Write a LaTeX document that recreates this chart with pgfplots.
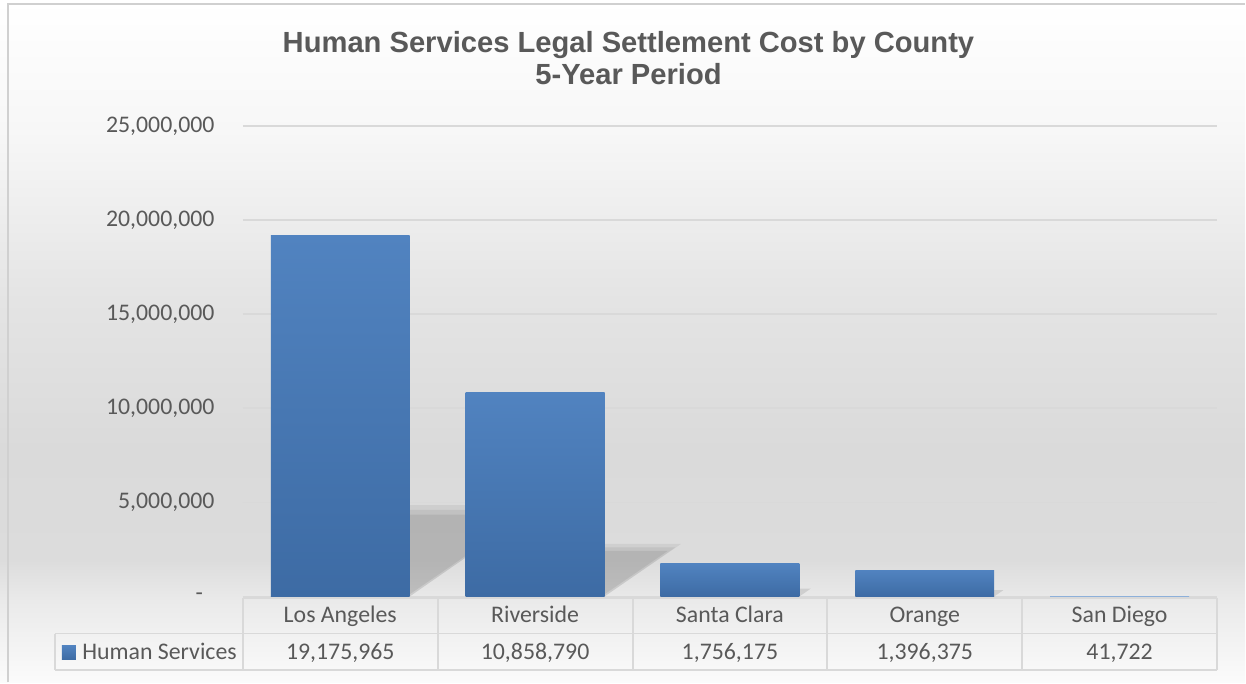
\documentclass[border=0pt]{standalone}
\usepackage{pgfplots}
\pgfplotsset{compat=1.18}
\usepackage{fontspec}
\setmainfont{Carlito}
\newfontfamily\titlefont{Liberation Sans}
\definecolor{txt}{HTML}{595959}
\definecolor{gridc}{HTML}{D9D9D9}
\definecolor{bartop}{HTML}{5183C0}
\definecolor{barbot}{HTML}{3D6BA4}
\definecolor{framec}{HTML}{D0D0D0}
\definecolor{sdline}{HTML}{8DB0DA}
\definecolor{c0}{HTML}{FBFBFB}
\definecolor{c1}{HTML}{EAEAEA}
\definecolor{c2}{HTML}{DCDCDC}
\definecolor{c3}{HTML}{DADADA}
\definecolor{c4}{HTML}{E4E4E4}
\definecolor{c5}{HTML}{F7F7F7}
\definecolor{c6}{HTML}{FFFFFF}
\pgfdeclareverticalshading{bgshade}{100bp}{color(0bp)=(c0); color(25bp)=(c0); color(31bp)=(c1); color(34bp)=(c2); color(42bp)=(c3); color(53bp)=(c4); color(65.5bp)=(c5); color(75bp)=(c6); color(100bp)=(c6)}
\newcommand\bodyfont{\fontsize{14.3pt}{17pt}\selectfont\color{txt}}
\pgfplotsset{
  bars/.style={ybar, bar width=83.4pt, bar shift=0pt, draw=none, mark=none, top color=bartop, bottom color=barbot},
  shadow/.style={fill=black, fill opacity=#1, draw=none, mark=none, forget plot},
}
\begin{document}
\begin{tikzpicture}
\begin{scope}[x=0.6pt,y=-0.6pt]
\path[shading=bgshade] (0,0) rectangle (1246,683);
\end{scope}
\begin{axis}[
  at={(145.8pt,-358.2pt)}, anchor=south west,
  scale only axis, width=585pt, height=282.6pt,
  xmin=-0.5, xmax=4.5, ymin=0, ymax=25000000,
  axis line style={draw=none},
  scaled y ticks=false,
  ytick={0,5000000,10000000,15000000,20000000,25000000},
  yticklabels={{\raisebox{-2.4pt}{-}\hspace*{7pt}},{5,000,000},{10,000,000},{15,000,000},{20,000,000},{25,000,000}},
  ymajorgrids, grid style={gridc, line width=1pt},
  major tick length=0pt,
  xtick={0,1,2,3,4},
  xticklabels={Los Angeles,Riverside,Santa Clara,Orange,San Diego},
  xticklabel style={font=\bodyfont, anchor=base, yshift=-15.6pt, inner sep=0pt},
  yticklabel style={font=\bodyfont, anchor=east, inner sep=0pt, xshift=-16.8pt},
  clip=false,
]
% soft shadows (three layers each)
\addplot[shadow=0.06] coordinates {(-0.356,0) (0.356,0) (1.030,4850000) (0.318,4850000)} --cycle;
\addplot[shadow=0.06] coordinates {(-0.356,0) (0.356,0) (0.996,4602000) (0.284,4602000)} --cycle;
\addplot[shadow=0.07] coordinates {(-0.356,0) (0.340,0) (0.950,4350000) (0.250,4350000)} --cycle;
\addplot[shadow=0.06] coordinates {(0.644,0) (1.356,0) (1.750,2800000) (1.038,2800000)} --cycle;
\addplot[shadow=0.06] coordinates {(0.644,0) (1.356,0) (1.719,2606000) (1.007,2606000)} --cycle;
\addplot[shadow=0.07] coordinates {(0.644,0) (1.340,0) (1.680,2420000) (0.980,2420000)} --cycle;
\addplot[shadow=0.10] coordinates {(1.644,0) (2.356,0) (2.415,421000) (1.703,421000)} --cycle;
\addplot[shadow=0.10] coordinates {(2.644,0) (3.356,0) (3.403,335000) (2.691,335000)} --cycle;
% bars
\addplot[bars] coordinates {(0,19175965)};
\addplot[bars] coordinates {(1,10858790)};
\addplot[bars] coordinates {(2,1756175)};
\addplot[bars] coordinates {(3,1396375)};
\addplot[bars, top color=sdline, bottom color=sdline] coordinates {(4,41722)};
% data table values
\node[anchor=base, yshift=-37.8pt, font=\bodyfont, inner sep=0pt] at (axis cs:0,0) {19,175,965};
\node[anchor=base, yshift=-37.8pt, font=\bodyfont, inner sep=0pt] at (axis cs:1,0) {10,858,790};
\node[anchor=base, yshift=-37.8pt, font=\bodyfont, inner sep=0pt] at (axis cs:2,0) {1,756,175};
\node[anchor=base, yshift=-37.8pt, font=\bodyfont, inner sep=0pt] at (axis cs:3,0) {1,396,375};
\node[anchor=base, yshift=-37.8pt, font=\bodyfont, inner sep=0pt] at (axis cs:4,0) {41,722};
\end{axis}
\begin{scope}[x=0.6pt,y=-0.6pt]
\draw[gridc, line width=1.2pt] (243,598) -- (1218,598);
\draw[gridc, line width=1.2pt] (55,634) -- (1218,634);
\draw[gridc, line width=1.2pt] (55,671) -- (1218,671);
\foreach \x in {243,438,633,828,1023,1218} \draw[gridc, line width=1.2pt] (\x,598) -- (\x,671);
\draw[gridc, line width=1.2pt] (55,634) -- (55,671);
\fill[top color=bartop, bottom color=barbot] (62,646) rectangle (76,660);
\node[anchor=base west, font=\bodyfont, inner sep=0pt] at (82,660) {Human Services};
\node[anchor=base, font=\titlefont\bfseries\fontsize{17.5pt}{20pt}\selectfont, text=txt, inner sep=0pt] at (629,53) {Human Services Legal Settlement Cost by County};
\node[anchor=base, font=\titlefont\bfseries\fontsize{17.5pt}{20pt}\selectfont, text=txt, inner sep=0pt] at (629,85) {5-Year Period};
\draw[framec, line width=1.2pt] (8,683) -- (8,4) -- (1246,4);
\end{scope}
\end{tikzpicture}
\end{document}
